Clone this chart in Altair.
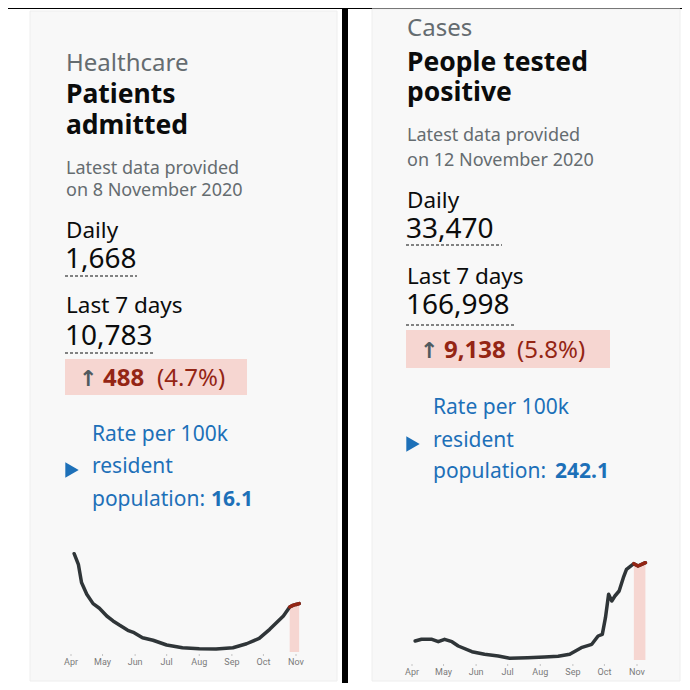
import altair as alt
import pandas as pd

# ---------------- data ----------------
left_dates = ["2020-04-04", "2020-04-08", "2020-04-11", "2020-04-16", "2020-04-22", "2020-04-28",
              "2020-05-05", "2020-05-11", "2020-05-17", "2020-05-25", "2020-05-31", "2020-06-08",
              "2020-06-18", "2020-07-01", "2020-07-16", "2020-08-01", "2020-08-17", "2020-09-02",
              "2020-09-15", "2020-09-27", "2020-10-07", "2020-10-20", "2020-10-26", "2020-10-29",
              "2020-11-01", "2020-11-04"]
left_values = [3100, 2765, 2190, 1820, 1525, 1380, 1135, 980, 850, 685, 610, 450, 370, 220, 135,
               105, 95, 135, 260, 430, 715, 1135, 1420, 1470, 1500, 1525]
left_cutoff = "2020-10-26"

right_dates = ["2020-04-04", "2020-04-10", "2020-04-20", "2020-04-26", "2020-05-02", "2020-05-09",
               "2020-05-15", "2020-05-28", "2020-06-09", "2020-06-22", "2020-07-03", "2020-07-20",
               "2020-08-05", "2020-08-18", "2020-08-29", "2020-09-09", "2020-09-19", "2020-09-25",
               "2020-09-29", "2020-10-02", "2020-10-05", "2020-10-08", "2020-10-11", "2020-10-15",
               "2020-10-19", "2020-10-22", "2020-10-29", "2020-11-02", "2020-11-09"]
right_values = [4750, 5175, 5175, 4575, 5175, 4575, 3500, 2075, 1425, 1000, 425, 575, 750, 925,
                1425, 3075, 3925, 6000, 6425, 10575, 16425, 14750, 16000, 17250, 20575, 22675,
                24075, 23500, 24325]
right_cutoff = "2020-10-29"

month_dates = ["2020-04-01", "2020-05-01", "2020-06-01", "2020-07-01", "2020-08-01",
               "2020-09-01", "2020-10-01", "2020-11-01"]
month_labels = ["Apr", "May", "Jun", "Jul", "Aug", "Sep", "Oct", "Nov"]

left_text = {
    "category": "Healthcare", "title1": "Patients", "title2": "admitted",
    "latest1": "Latest data provided", "latest2": "on 8 November 2020",
    "daily": "1,668", "week": "10,783", "change": "488", "pct": "(4.7%)", "rate": "16.1",
}
right_text = {
    "category": "Cases", "title1": "People tested", "title2": "positive",
    "latest1": "Latest data provided", "latest2": "on 12 November 2020",
    "daily": "33,470", "week": "166,998", "change": "9,138", "pct": "(5.8%)", "rate": "242.1",
}

# ---------------- style ----------------
FONT = "Noto Sans"
BLACK = "#0b0c0c"
GRAY = "#656c70"
BLUE = "#1d70b8"
RED = "#942514"
PINK = "#f6d6d1"
LINE = "#2f3538"
CARD = "#f8f8f8"
W, H = 334, 674

one = alt.Data(values=[{"a": 1}])


def txt(s, x, y, size, color=BLACK, weight="normal", font=FONT):
    return alt.Chart(one).mark_text(
        text=s, font=font, fontSize=size, color=color, fontWeight=weight,
        align="left", baseline="alphabetic"
    ).encode(x=alt.value(x), y=alt.value(y))


def rect(x, x2, y, y2, fill, stroke=None):
    kw = dict(fill=fill)
    if stroke:
        kw.update(stroke=stroke, strokeWidth=1)
    return alt.Chart(one).mark_rect(**kw).encode(
        x=alt.value(x), x2=alt.value(x2), y=alt.value(y), y2=alt.value(y2))


def dashed(x, x2, y):
    return alt.Chart(one).mark_rule(color=BLACK, strokeWidth=1, strokeDash=[3, 2]).encode(
        x=alt.value(x), x2=alt.value(x2), y=alt.value(y))


def panel(t, dates, values, cutoff, L):
    df = pd.DataFrame({"date": dates, "value": values})
    recent = df[df["date"] >= cutoff]
    months = pd.DataFrame({"date": month_dates, "label": month_labels})
    xs = alt.X("date:T", title=None, axis=None,
               scale=alt.Scale(type="utc",
                               domain=[alt.DateTime(year=2020, month=4, date=1, utc=True),
                                       alt.DateTime(year=2020, month=11, date=1, utc=True)],
                               range=[L["x0"], L["x1"]], nice=False))
    ys = alt.Y("value:Q", axis=None,
               scale=alt.Scale(domain=[0, L["ymax"]], range=[L["y0"], L["y1"]], nice=False, zero=True))

    area = alt.Chart(recent).mark_area(color=PINK).encode(x=xs, y=ys, y2=alt.Y2(datum=0))
    line = alt.Chart(df).mark_line(color=LINE, strokeWidth=3.5, strokeJoin="round",
                                   strokeCap="round").encode(x=xs, y=ys)
    red = alt.Chart(recent).mark_line(color=RED, strokeWidth=3.5, strokeJoin="round",
                                      strokeCap="round").encode(x=xs, y=ys)
    ticks = alt.Chart(months).mark_rule(color="#c4c4c4", strokeWidth=1).encode(
        x=xs, y=alt.value(L["tk"]), y2=alt.value(L["tk"] + 2))
    labels = alt.Chart(months).mark_text(font="Roboto", fontSize=9, color="#7a7a7a",
                                         baseline="middle", align="center").encode(
        x=xs, y=alt.value(L["lab"]), text="label:N")

    X = L["tx"]
    layers = [
        rect(L["cx0"], L["cx1"], L["cy0"], L["cy1"], CARD, "#eeeeee"),
        txt(t["category"], X, L["cat"], 24, GRAY),
        txt(t["title1"], X, L["t1"], 26.5, BLACK, "bold"),
        txt(t["title2"], X, L["t2"], 26.5, BLACK, "bold"),
        txt(t["latest1"], X, L["l1"], 18, GRAY),
        txt(t["latest2"], X, L["l2"], 18, GRAY),
        txt("Daily", X, L["dl"], 22.5),
        txt(t["daily"], X - 1, L["dv"], 28),
        dashed(X - 1, L["du_x"], L["du"]),
        txt("Last 7 days", X, L["wl"], 22.5),
        txt(t["week"], X - 1, L["wv"], 28),
        dashed(X - 1, L["wu_x"], L["wu"]),
        rect(X - 1, L["pb_x"], L["pb0"], L["pb1"], PINK),
        txt("\u2191", X + 13, L["cb"], 22, "#505a5f", "bold", "DejaVu Sans"),
        txt(t["change"], X + 37, L["cb"], 24, RED, "bold"),
        txt(t["pct"], L["pct_x"], L["cb"], 24, RED),
        alt.Chart(one).mark_point(shape="triangle-right", filled=True, color=BLUE, size=240,
                                  opacity=1, strokeWidth=0)
           .encode(x=alt.value(X + 6), y=alt.value(L["tri"])),
        txt("Rate per 100k", X + 26, L["r1"], 21, BLUE),
        txt("resident", X + 26, L["r2"], 21, BLUE),
        txt("population:", X + 26, L["r3"], 21, BLUE),
        txt(t["rate"], L["rate_x"], L["r3"], 21, BLUE, "bold"),
        area, line, red, ticks, labels,
    ]
    return alt.layer(*layers).properties(width=W, height=H)


LL = dict(cx0=22, cx1=329, cy0=2, cy1=672, tx=58,
          cat=62, t1=94, t2=125, l1=165, l2=187, dl=229, dv=259, du=267, du_x=129,
          wl=304, wv=336, wu=344, wu_x=145, pb0=350, pb1=386, pb_x=239, cb=377, pct_x=149,
          tri=461, r1=432, r2=464, r3=497, rate_x=203,
          x0=63, x1=288, y0=643, y1=532, ymax=3500, tk=645, lab=653)
RL = dict(cx0=24, cx1=332, cy0=0, cy1=672, tx=59,
          cat=27, t1=62, t2=92, l1=132, l2=157, dl=199, dv=229, du=236, du_x=154,
          wl=275, wv=305, wu=316, wu_x=168, pb0=321, pb1=359, pb_x=262, cb=349, pct_x=169,
          tri=435, r1=405, r2=438, r3=469, rate_x=207,
          x0=64, x1=289, y0=651, y1=551, ymax=25000, tk=655, lab=663)

left = panel(left_text, left_dates, left_values, left_cutoff, LL)
right = panel(right_text, right_dates, right_values, right_cutoff, RL)

chart = alt.hconcat(left, right, spacing=6).properties(
    padding=0, background="black"
).configure_view(fill="white", stroke=None)

chart.save("out.html", embed_options={"renderer": "svg", "actions": False})
